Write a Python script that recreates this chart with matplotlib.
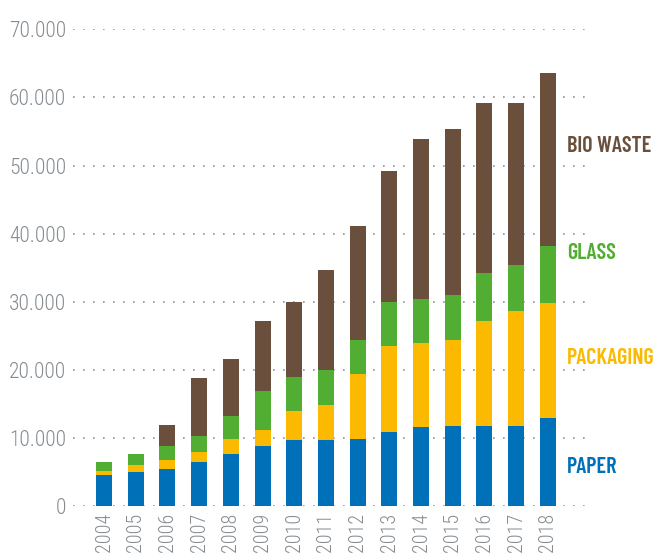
import numpy as np
import matplotlib
matplotlib.use('Agg')
import matplotlib.pyplot as plt

years = [str(y) for y in range(2004, 2019)]
# cumulative tops
paper_top = [4560, 5000, 5440, 6470, 7650, 8820, 9700, 9700, 9850, 10880, 11620, 11760, 11760, 11760, 12940]
pack_top = [5150, 6030, 6760, 7940, 9850, 11180, 13970, 14850, 19410, 23530, 23970, 24410, 27210, 28680, 29850]
glass_top = [6470, 7650, 8820, 10290, 13240, 16910, 18970, 20000, 24410, 29990, 30430, 31010, 34260, 35400, 38190]
bio_top = [6470, 7650, 11910, 18820, 21600, 27210, 29990, 34700, 41130, 49220, 53930, 55400, 59220, 59220, 63630]

paper = np.array(paper_top)
packaging = np.array(pack_top) - np.array(paper_top)
glass = np.array(glass_top) - np.array(pack_top)
bio = np.array(bio_top) - np.array(glass_top)

series = ['PAPER', 'PACKAGING', 'GLASS', 'BIO WASTE']
colors = ['#0070b8', '#fbba00', '#52ae32', '#6a4f3c']
label_y = [5800, 21700, 37100, 52900]

tick_font = ['Roboto Condensed', 'DejaVu Sans']
label_font = ['Barlow Condensed', 'Roboto Condensed', 'DejaVu Sans']

W, H = 659, 554
fig = plt.figure(figsize=(W / 100, H / 100), dpi=100)
left, right, bottom, top = 73, 585, 48, 524.7
ax = fig.add_axes([left / W, bottom / H, (right - left) / W, (top - bottom) / H])

x = np.arange(len(years))
base = np.zeros(len(years))
for vals, c in zip([paper, packaging, glass, bio], colors):
    ax.bar(x, vals, bottom=base, width=0.505, color=c, zorder=3, linewidth=0)
    base = base + vals

ax.set_xlim(-0.978, 15.17)
ax.set_ylim(0, 70000)
ax.set_yticks(range(0, 70001, 10000))
ax.set_yticklabels(['0'] + ['%d.000' % (v // 1000) for v in range(10000, 70001, 10000)])
ax.set_xticks(x)
ax.set_xticklabels(years, rotation=90, va='top')

ax.yaxis.grid(True, color='#8c9296', linestyle=(0, (1, 5)), linewidth=1.2, zorder=0)
for s in ax.spines.values():
    s.set_visible(False)
ax.tick_params(axis='both', length=0, colors='#858c91')
ax.tick_params(axis='y', pad=5, labelsize=15.5)
ax.tick_params(axis='x', pad=5, labelsize=14.5)
for t in ax.get_xticklabels() + ax.get_yticklabels():
    t.set_fontfamily(tick_font)
    t.set_fontweight(300)

for name, c, yy in zip(series, colors, label_y):
    ax.text(14.6, yy, name, color=c, fontsize=16, fontweight=600,
            family=label_font, va='center', ha='left')

fig.savefig('out.png', dpi=100)
